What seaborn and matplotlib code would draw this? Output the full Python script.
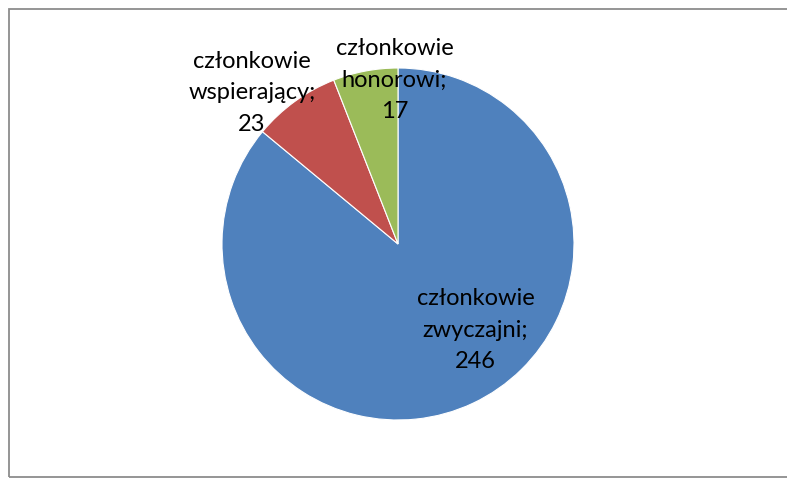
import matplotlib
matplotlib.use("Agg")
import matplotlib.pyplot as plt
import seaborn as sns
from matplotlib.patches import Rectangle

# Dane
kategorie = ["członkowie\nzwyczajni;", "członkowie\nwspierający;", "członkowie\nhonorowi;"]
wartosci = [246, 23, 17]
kolory = ["#4F81BD", "#C0504D", "#9BBB59"]
# Pozycje etykiet (w jednostkach promienia)
pozycje_etykiet = [(0.44, -0.49), (-0.83, 0.86), (-0.02, 0.93)]

sns.set_theme(style="white")
plt.rcParams["font.family"] = ["Lato", "DejaVu Sans"]

W, H = 787, 484
fig = plt.figure(figsize=(W / 100, H / 100), dpi=100)
fig.patch.set_facecolor("white")

# Ramka wykresu (prawa krawędź poza obrazem)
fig.patches.append(Rectangle((8.5 / W, 1 - 477 / H), (795 - 8.5) / W, (477 - 9) / H,
                             transform=fig.transFigure, fill=False,
                             edgecolor="#8C8C8C", linewidth=1.3))

cx, cy, r = 398, 244, 176
ax = fig.add_axes([(cx - r) / W, (H - cy - r) / H, 2 * r / W, 2 * r / H])
ax.pie(wartosci, colors=kolory, startangle=90, counterclock=False, radius=1,
       wedgeprops=dict(edgecolor="white", linewidth=0.8))
ax.set_xlim(-1, 1)
ax.set_ylim(-1, 1)
ax.set_aspect("equal")
ax.axis("off")

for kat, wart, (x, y) in zip(kategorie, wartosci, pozycje_etykiet):
    ax.text(x, y, f"{kat}\n{wart}", ha="center", va="center", fontsize=17,
            color="black", linespacing=1.62, clip_on=False)

fig.savefig("out.png", dpi=100)
